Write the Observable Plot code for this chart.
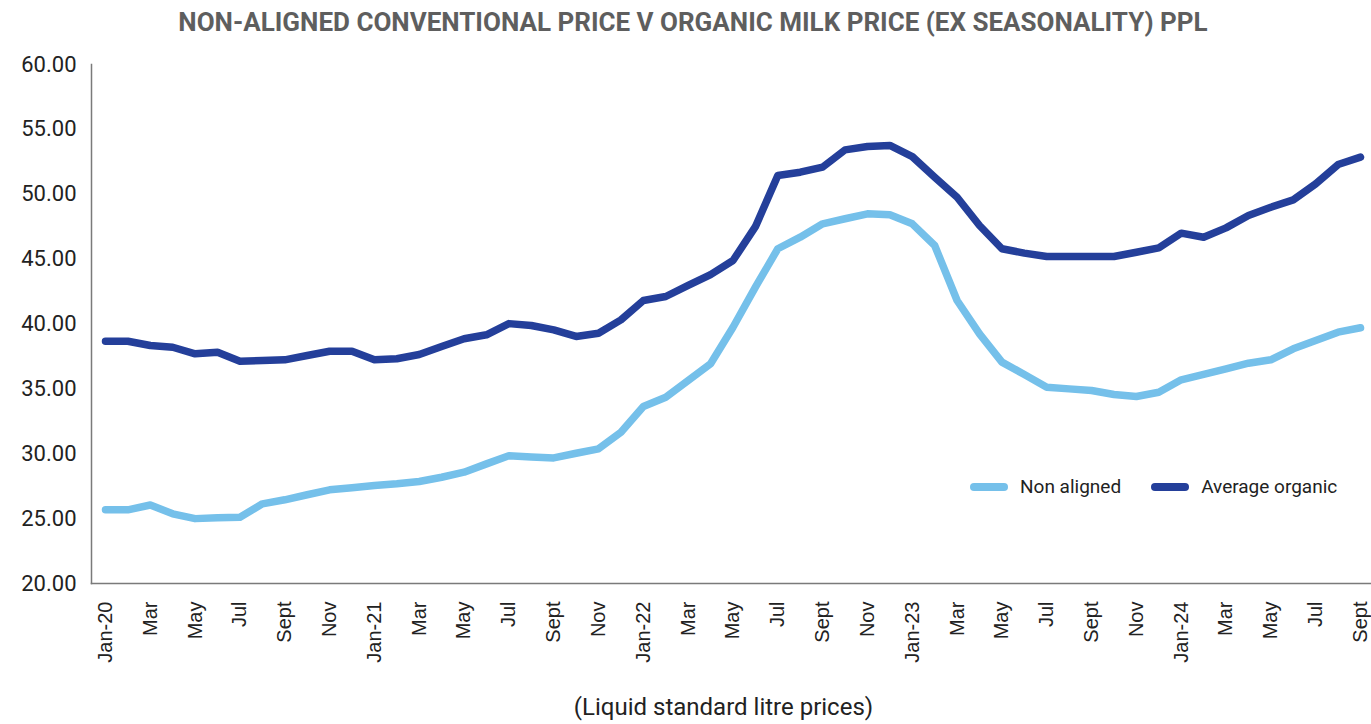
<!DOCTYPE html>
<html>
<head>
<meta charset="utf-8">
<script src="https://cdn.jsdelivr.net/npm/d3@7"></script>
<script src="https://cdn.jsdelivr.net/npm/@observablehq/plot@0.6"></script>
<style>
  html, body { margin: 0; padding: 0; background: #fff; }
  #wrap { position: relative; width: 1371px; height: 724px; overflow: hidden; font-family: Roboto, "Liberation Sans", sans-serif; }
  #title { position: absolute; top: 7px; left: 0; width: 1371px; box-sizing: border-box; padding-left: 15px; text-align: center;
           font-family: Roboto, sans-serif; font-weight: 700; font-size: 26px; color: #5e5e5e; line-height: 30px; }
  #chart { position: absolute; top: 44px; left: 0; }
  #legend { position: absolute; top: 475px; left: 970px; font-family: Roboto, sans-serif; font-size: 19px; color: #222; line-height: 24px; white-space: nowrap; }
  #legend .item { display: inline-block; margin-right: 30px; }
  #legend .sw { display: inline-block; width: 38px; height: 8px; border-radius: 4px; vertical-align: middle; margin-right: 12px; position: relative; top: -1px; }
  #caption { position: absolute; top: 693px; left: 0; width: 1371px; box-sizing: border-box; padding-left: 76px; text-align: center;
             font-family: Roboto, sans-serif; font-size: 24px; color: #222; line-height: 28px; }
</style>
</head>
<body>
<div id="wrap">
  <div id="title"></div>
  <div id="chart"></div>
  <div id="legend"></div>
  <div id="caption"></div>
</div>
<script>
const titleText = "NON-ALIGNED CONVENTIONAL PRICE V ORGANIC MILK PRICE (EX SEASONALITY) PPL";
const captionText = "(Liquid standard litre prices)";

const monthLabels = [
  "Jan-20","Feb","Mar","Apr","May","Jun","Jul","Aug","Sept","Oct","Nov","Dec",
  "Jan-21","Feb","Mar","Apr","May","Jun","Jul","Aug","Sept","Oct","Nov","Dec",
  "Jan-22","Feb","Mar","Apr","May","Jun","Jul","Aug","Sept","Oct","Nov","Dec",
  "Jan-23","Feb","Mar","Apr","May","Jun","Jul","Aug","Sept","Oct","Nov","Dec",
  "Jan-24","Feb","Mar","Apr","May","Jun","Jul","Aug","Sept"
];

const seriesNames = ["Non aligned", "Average organic"];
const seriesColors = ["#75c0ea", "#243f9a"];

const nonAligned = [
  25.68,25.68,26.05,25.37,25.00,25.06,25.11,26.14,26.45,26.84,27.22,27.38,
  27.55,27.68,27.86,28.19,28.58,29.22,29.85,29.75,29.68,30.04,30.38,31.66,
  33.64,34.36,35.65,36.93,39.75,42.84,45.80,46.69,47.72,48.11,48.49,48.42,
  47.72,46.05,41.81,39.24,37.06,36.11,35.13,35.00,34.87,34.57,34.41,34.74,
  35.70,36.11,36.55,36.98,37.24,38.09,38.73,39.37,39.71
];

const averageOrganic = [
  38.67,38.67,38.34,38.21,37.70,37.83,37.13,37.19,37.24,37.57,37.90,37.90,
  37.24,37.32,37.65,38.27,38.86,39.17,40.03,39.88,39.55,39.04,39.29,40.32,
  41.81,42.12,42.97,43.81,44.89,47.50,51.45,51.70,52.09,53.42,53.68,53.76,
  52.90,51.31,49.77,47.59,45.80,45.46,45.20,45.20,45.20,45.20,45.53,45.87,
  47.00,46.69,47.41,48.36,49.00,49.57,50.80,52.29,52.86
];

const yTicks = [20,25,30,35,40,45,50,55,60];

const data = [];
[nonAligned, averageOrganic].forEach((vals, s) => {
  vals.forEach((v, i) => data.push({i, value: v, series: seriesNames[s]}));
});

document.getElementById("title").textContent = titleText;
document.getElementById("caption").textContent = captionText;

const legend = document.getElementById("legend");
seriesNames.forEach((n, k) => {
  const it = document.createElement("span");
  it.className = "item";
  const sw = document.createElement("span");
  sw.className = "sw";
  sw.style.background = seriesColors[k];
  it.appendChild(sw);
  it.appendChild(document.createTextNode(n));
  legend.appendChild(it);
});

const idx = monthLabels.map((_, i) => i);

const chart = Plot.plot({
  width: 1371,
  height: 640,
  marginTop: 20,
  marginBottom: 101,
  marginLeft: 91,
  marginRight: 0,
  style: { fontFamily: "Roboto, 'Liberation Sans', sans-serif", color: "#222", background: "transparent" },
  x: { type: "linear", domain: [0, monthLabels.length - 1], insetLeft: 14, insetRight: 11 },
  y: { domain: [20, 60] },
  color: { domain: seriesNames, range: seriesColors },
  marks: [
    Plot.axisY({ticks: yTicks, tickFormat: d => d.toFixed(2), tickSize: 0, tickPadding: 15, fontSize: 22, label: null}),
    Plot.axisX({ticks: idx.filter(i => i % 2 === 0), tickFormat: i => monthLabels[i], tickRotate: -90, tickSize: 0, tickPadding: 18,
                fontSize: 20, fontFamily: "'Liberation Sans', Arial, sans-serif", label: null}),
    Plot.line(data, {x: "i", y: "value", z: "series", stroke: "series", strokeWidth: 7.5,
                     strokeLinejoin: "round", strokeLinecap: "round"}),
    Plot.frame({anchor: "left", stroke: "#7a7a7a", strokeWidth: 1.5}),
    Plot.frame({anchor: "bottom", stroke: "#7a7a7a", strokeWidth: 1.5})
  ]
});
document.getElementById("chart").appendChild(chart);
</script>
</body>
</html>
